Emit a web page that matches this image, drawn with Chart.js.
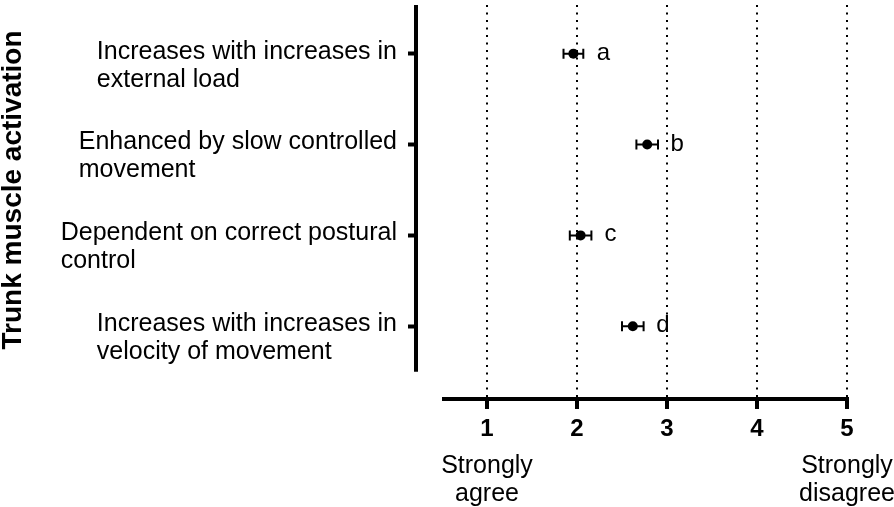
<!DOCTYPE html>
<html>
<head>
<meta charset="utf-8">
<script src="https://cdn.jsdelivr.net/npm/chart.js@4.4.0/dist/chart.umd.min.js"></script>
<style>
  html, body { margin: 0; padding: 0; background: #fff; }
</style>
</head>
<body>
<canvas id="chart" width="894" height="507"></canvas>
<script>
// statements on the y axis, top to bottom
const statements = [
    ['Increases with increases in', 'external load'],
    ['Enhanced by slow controlled', 'movement'],
    ['Dependent on correct postural', 'control'],
    ['Increases with increases in', 'velocity of movement']
];
const meanScores = [1.96, 2.78, 2.04, 2.62];
const scoreErrors = [0.11, 0.12, 0.12, 0.12];
const groupLetters = ['a', 'b', 'c', 'd'];
const scoreTicks = [1, 2, 3, 4, 5];
const anchorTicks = [1, 5];
const anchorLabels = [['Strongly', 'agree'], ['Strongly', 'disagree']];
const yTitle = 'Trunk muscle activation';

const FONT = "'Liberation Sans', Arial, sans-serif";

// error bars, axis lines, statement labels, letters and the y title
const annotate = {
    id: 'annotate',
    beforeDatasetsDraw(chart) {
        const { ctx, scales: { x, y } } = chart;
        ctx.save();
        ctx.strokeStyle = '#000';
        ctx.lineWidth = 2;
        meanScores.forEach((m, i) => {
            const py = y.getPixelForValue(i + 1);
            const x0 = x.getPixelForValue(m - scoreErrors[i]);
            const x1 = x.getPixelForValue(m + scoreErrors[i]);
            ctx.beginPath();
            ctx.moveTo(x0, py); ctx.lineTo(x1, py);
            ctx.moveTo(x0, py - 5); ctx.lineTo(x0, py + 5);
            ctx.moveTo(x1, py - 5); ctx.lineTo(x1, py + 5);
            ctx.stroke();
        });
        ctx.restore();
    },
    afterDraw(chart) {
        const { ctx, chartArea, scales: { x, y } } = chart;
        ctx.save();
        ctx.strokeStyle = '#000';
        ctx.fillStyle = '#000';
        ctx.lineWidth = 4;

        // offset axis lines
        ctx.beginPath();
        ctx.moveTo(x.getPixelForValue(0.5), chartArea.bottom);
        ctx.lineTo(x.getPixelForValue(5) + 2, chartArea.bottom);
        ctx.moveTo(chartArea.left, chartArea.top);
        ctx.lineTo(chartArea.left, y.getPixelForValue(4.5));
        ctx.stroke();

        // statement labels: block right aligned, lines left aligned
        ctx.font = '25px ' + FONT;
        ctx.textBaseline = 'middle';
        ctx.textAlign = 'left';
        const right = chartArea.left - 19;
        statements.forEach((lines, i) => {
            const py = y.getPixelForValue(i + 1);
            const w = Math.max(...lines.map(l => ctx.measureText(l).width));
            lines.forEach((l, j) => ctx.fillText(l, right - w, py - 2 + j * 28));
        });

        // group letters next to each mean
        ctx.font = '24px ' + FONT;
        ctx.textAlign = 'center';
        ctx.textBaseline = 'alphabetic';
        meanScores.forEach((m, i) => {
            ctx.fillText(groupLetters[i], x.getPixelForValue(m) + 30, y.getPixelForValue(i + 1) + 6);
        });

        // rotated y title
        const cy = (y.getPixelForValue(0.5) + y.getPixelForValue(4.5)) / 2;
        ctx.translate(21, cy);
        ctx.rotate(-Math.PI / 2);
        ctx.font = 'bold 28px ' + FONT;
        ctx.fillText(yTitle, 0, 0);
        ctx.restore();
    }
};

const noPadding = s => { s.paddingLeft = 0; s.paddingRight = 0; s.paddingTop = 0; s.paddingBottom = 0; };

new Chart(document.getElementById('chart'), {
    type: 'scatter',
    data: {
        datasets: [{
            data: meanScores.map((m, i) => ({ x: m, y: i + 1 })),
            pointRadius: 5,
            pointBackgroundColor: '#000',
            pointBorderColor: '#000',
            pointBorderWidth: 0
        }]
    },
    options: {
        responsive: false,
        animation: false,
        events: [],
        layout: { padding: { left: 0, top: 0, right: 47, bottom: 0 } },
        plugins: { legend: { display: false }, tooltip: { enabled: false } },
        scales: {
            x: {
                type: 'linear',
                position: 'bottom',
                weight: 0,
                min: 0.211,
                max: 5,
                afterBuildTicks: s => { s.ticks = scoreTicks.map(v => ({ value: v })); },
                afterFit: s => { noPadding(s); s.height = 40; },
                grid: {
                    color: '#000',
                    lineWidth: 2,
                    tickLength: 10,
                    tickWidth: 4,
                    tickColor: '#000'
                },
                border: { display: false, dash: [2, 5.5] },
                ticks: {
                    color: '#000',
                    padding: 6,
                    maxRotation: 0,
                    font: { family: FONT, size: 24, weight: 'bold' }
                }
            },
            x2: {
                type: 'linear',
                position: 'bottom',
                weight: 1,
                min: 0.211,
                max: 5,
                afterBuildTicks: s => { s.ticks = anchorTicks.map(v => ({ value: v })); },
                afterFit: s => { noPadding(s); s.height = 68; },
                grid: { display: false },
                border: { display: false },
                ticks: {
                    color: '#000',
                    padding: 5,
                    maxRotation: 0,
                    autoSkip: false,
                    callback: (v, i) => anchorLabels[i],
                    font: { family: FONT, size: 25, lineHeight: 1.12 }
                }
            },
            y: {
                type: 'linear',
                position: 'left',
                reverse: true,
                min: 0.465,
                max: 4.8,
                afterBuildTicks: s => { s.ticks = statements.map((_, i) => ({ value: i + 1 })); },
                afterFit: s => { noPadding(s); s.width = 416; },
                grid: {
                    drawOnChartArea: false,
                    tickLength: 8,
                    tickWidth: 4,
                    tickColor: '#000'
                },
                border: { display: false },
                ticks: { display: false }
            }
        }
    },
    plugins: [annotate]
});
</script>
</body>
</html>
